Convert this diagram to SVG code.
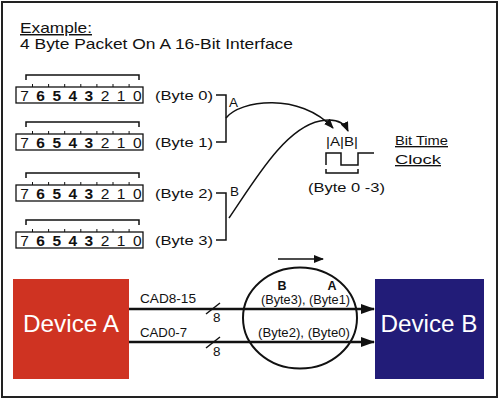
<svg xmlns="http://www.w3.org/2000/svg" width="500" height="401" viewBox="0 0 500 401">
<style>
text{font-family:"Liberation Sans",Arial,sans-serif;fill:#111}
.t13{font-size:13.5px}
.dg{font-size:15.5px;text-anchor:middle}
.b{font-weight:bold}
.ln{fill:none;stroke:#111;stroke-width:1.5}
.bus{fill:none;stroke:#111;stroke-width:2.5}
.dev{font-size:23px;fill:#fff;text-anchor:middle}
.sm{font-size:12px}
</style>
<defs>
<marker id="ah" markerUnits="userSpaceOnUse" markerWidth="14" markerHeight="10" viewBox="0 0 14 10" refX="13" refY="5" orient="auto"><path d="M0,0 L14,5 L0,10 z" fill="#111"/></marker>
<marker id="ahs" markerUnits="userSpaceOnUse" markerWidth="10" markerHeight="8" viewBox="0 0 10 8" refX="9" refY="4" orient="auto"><path d="M0,0 L10,4 L0,8 z" fill="#111"/></marker>
<g id="bytebox">
<path class="ln" d="M26,-7 V-12 H139 V-7" stroke-width="1.3"/>
<rect x="16" y="0" width="127" height="16" fill="#fff" stroke="#111" stroke-width="1.3"/>
<path d="M32.5,-3V0M48.6,-3V0M64.7,-3V0M80.8,-3V0M96.9,-3V0M113,-3V0M129.1,-3V0" stroke="#111" stroke-width="1"/>
<text class="dg" y="14"><tspan x="24.5">7</tspan><tspan x="40.6" class="b">6</tspan><tspan x="56.7" class="b">5</tspan><tspan x="72.8" class="b">4</tspan><tspan x="88.9" class="b">3</tspan><tspan x="105">2</tspan><tspan x="121.1">1</tspan><tspan x="137.2">0</tspan></text>
</g>
</defs>
<rect x="2" y="2" width="495" height="395" fill="#fff" stroke="#222" stroke-width="2"/>
<g id="title">
<text x="20" y="33" font-size="14.5" text-decoration="underline" textLength="72" lengthAdjust="spacingAndGlyphs">Example:</text>
<text x="20" y="49" font-size="14.5" textLength="273" lengthAdjust="spacingAndGlyphs">4 Byte Packet On A 16-Bit Interface</text>
</g>
<g id="byte0"><use href="#bytebox" y="87"/><text class="t13" x="155" y="100" textLength="58" lengthAdjust="spacingAndGlyphs">(Byte 0)</text></g>
<g id="byte1"><use href="#bytebox" y="134"/><text class="t13" x="155" y="147" textLength="58" lengthAdjust="spacingAndGlyphs">(Byte 1)</text></g>
<g id="byte2"><use href="#bytebox" y="185"/><text class="t13" x="155" y="198" textLength="58" lengthAdjust="spacingAndGlyphs">(Byte 2)</text></g>
<g id="byte3"><use href="#bytebox" y="232"/><text class="t13" x="155" y="245" textLength="58" lengthAdjust="spacingAndGlyphs">(Byte 3)</text></g>
<g id="groupA"><path class="ln" d="M216,95 H226 V142 H216" stroke-width="2"/><text class="t13" x="229" y="107">A</text></g>
<g id="groupB"><path class="ln" d="M216,193 H226 V240 H216" stroke-width="2"/><text class="t13" x="230" y="196">B</text></g>
<g id="clock">
<text class="t13" x="326" y="146" textLength="32" lengthAdjust="spacingAndGlyphs">|A|B|</text>
<path class="ln" d="M326,165 V153 H341 V165 H358 V153 H374"/>
<path class="ln" d="M326,169 V173 H358 V169" stroke-width="1.3"/>
<text class="t13" x="308" y="192" textLength="77" lengthAdjust="spacingAndGlyphs">(Byte 0 -3)</text>
<text class="t13" x="395" y="145" text-decoration="underline" textLength="53" lengthAdjust="spacingAndGlyphs">Bit Time</text>
<text class="t13" x="395" y="164" text-decoration="underline" textLength="46" lengthAdjust="spacingAndGlyphs">Clock</text>
</g>
<g id="devA">
<rect x="13" y="279" width="116" height="100" fill="#cf3322"/>
<text class="dev" x="71" y="332" textLength="96" lengthAdjust="spacingAndGlyphs">Device A</text>
</g>
<g id="devB">
<rect x="375" y="279" width="109" height="100" fill="#221c78"/>
<text class="dev" x="429" y="332" textLength="97" lengthAdjust="spacingAndGlyphs">Device B</text>
</g>
<g id="window">
<ellipse cx="300" cy="318" rx="57" ry="50.5" fill="none" stroke="#111" stroke-width="2"/>
<text x="282" y="290" font-size="12.5" class="b" text-anchor="middle">B</text>
<text x="332" y="290" font-size="12.5" class="b" text-anchor="middle">A</text>
<text class="sm" x="261" y="304" textLength="89" lengthAdjust="spacingAndGlyphs">(Byte3), (Byte1)</text>
<text class="sm" x="258" y="337" textLength="92" lengthAdjust="spacingAndGlyphs">(Byte2), (Byte0)</text>
</g>
<g id="connectors">
<path class="ln" d="M226,118 C240,100 300,92 333,128" marker-end="url(#ahs)"/>
<path class="ln" d="M229,218 C255,180 285,128 320,121 C335,118 344,122 348,131" marker-end="url(#ahs)"/>
<path class="bus" d="M129,309 H374" marker-end="url(#ah)"/>
<path class="bus" d="M129,342 H374" marker-end="url(#ah)"/>
<path class="ln" d="M278,259 H323" stroke-width="2" marker-end="url(#ahs)"/>
<path d="M206,314 L220,303 M206,348 L220,337" stroke="#111" stroke-width="1.5"/>
<text class="t13" x="213" y="322">8</text>
<text class="t13" x="213" y="356">8</text>
<text class="t13" x="140" y="303" textLength="56" lengthAdjust="spacingAndGlyphs">CAD8-15</text>
<text class="t13" x="140" y="337" textLength="47" lengthAdjust="spacingAndGlyphs">CAD0-7</text>
</g>
</svg>
